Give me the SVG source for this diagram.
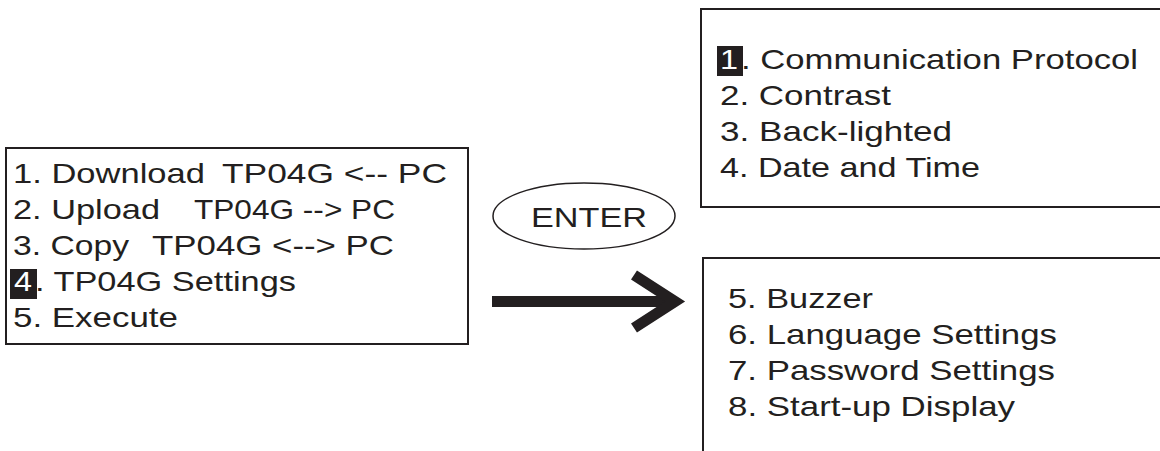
<svg xmlns="http://www.w3.org/2000/svg" width="1160" height="451" viewBox="0 0 1160 451">
<style>
.box{fill:#fff;stroke:#231f20;stroke-width:2}
.t{font-family:"Liberation Sans",Arial,sans-serif;font-size:28px;fill:#231f20}
.hl{fill:#231f20}
.w{fill:#fff}
</style>
<rect width="1160" height="451" fill="#fff"/>
<g id="main-menu">
<rect class="box" x="6" y="148" width="462" height="196"/>
<rect class="hl" x="10" y="269" width="27" height="30"/>
<text class="t" x="13" y="183" textLength="192" lengthAdjust="spacingAndGlyphs">1. Download</text>
<text class="t" x="222" y="183" textLength="225" lengthAdjust="spacingAndGlyphs">TP04G &lt;-- PC</text>
<text class="t" x="13" y="219" textLength="147" lengthAdjust="spacingAndGlyphs">2. Upload</text>
<text class="t" x="194" y="219" textLength="201" lengthAdjust="spacingAndGlyphs">TP04G --&gt; PC</text>
<text class="t" x="13" y="255" textLength="116" lengthAdjust="spacingAndGlyphs">3. Copy</text>
<text class="t" x="152" y="255" textLength="242" lengthAdjust="spacingAndGlyphs">TP04G &lt;--&gt; PC</text>
<text class="t w" x="14" y="291" textLength="18" lengthAdjust="spacingAndGlyphs">4</text>
<text class="t" x="35" y="291" textLength="261" lengthAdjust="spacingAndGlyphs">. TP04G Settings</text>
<text class="t" x="13" y="327" textLength="165" lengthAdjust="spacingAndGlyphs">5. Execute</text>
</g>
<g id="enter-key">
<ellipse cx="584" cy="216" rx="91" ry="33" fill="#fff" stroke="#231f20" stroke-width="1.5"/>
<text class="t" x="531" y="227" textLength="116" lengthAdjust="spacingAndGlyphs">ENTER</text>
</g>
<g id="settings-page1">
<rect class="box" x="701" y="9" width="500" height="198"/>
<rect class="hl" x="717" y="46" width="26" height="30"/>
<text class="t w" x="720" y="69" textLength="18" lengthAdjust="spacingAndGlyphs">1</text>
<text class="t" x="741" y="69" textLength="397" lengthAdjust="spacingAndGlyphs">. Communication Protocol</text>
<text class="t" x="720" y="105" textLength="171" lengthAdjust="spacingAndGlyphs">2. Contrast</text>
<text class="t" x="720" y="141" textLength="232" lengthAdjust="spacingAndGlyphs">3. Back-lighted</text>
<text class="t" x="720" y="177" textLength="260" lengthAdjust="spacingAndGlyphs">4. Date and Time</text>
</g>
<g id="settings-page2">
<rect class="box" x="703" y="258" width="500" height="250"/>
<text class="t" x="728" y="308" textLength="145" lengthAdjust="spacingAndGlyphs">5. Buzzer</text>
<text class="t" x="728" y="344" textLength="329" lengthAdjust="spacingAndGlyphs">6. Language Settings</text>
<text class="t" x="728" y="380" textLength="327" lengthAdjust="spacingAndGlyphs">7. Password Settings</text>
<text class="t" x="728" y="416" textLength="287" lengthAdjust="spacingAndGlyphs">8. Start-up Display</text>
</g>
<g id="connectors">
<line x1="492" y1="301.5" x2="672" y2="301.5" stroke="#231f20" stroke-width="11"/>
<polyline points="634,275 675,301.5 634,328" fill="none" stroke="#231f20" stroke-width="11" stroke-linejoin="miter"/>
</g>
</svg>
